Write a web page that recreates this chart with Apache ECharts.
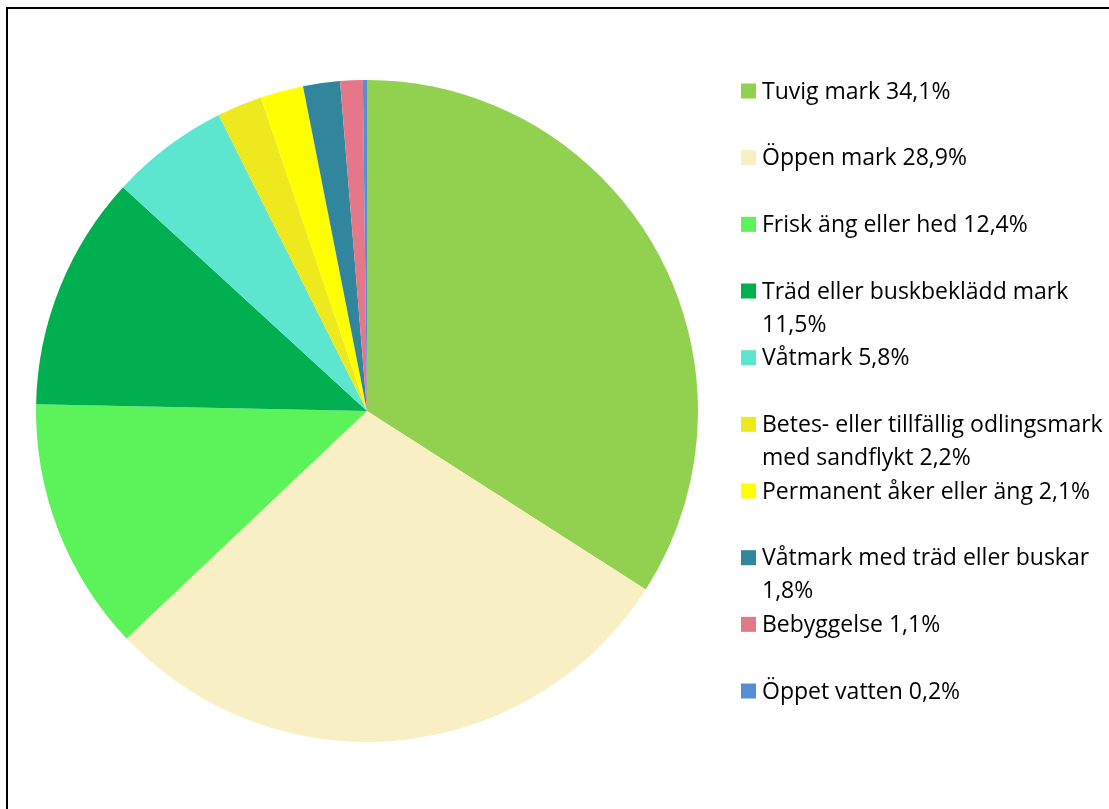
<!DOCTYPE html>
<html><head><meta charset="utf-8">
<script src="https://cdn.jsdelivr.net/npm/echarts@6/dist/echarts.min.js"></script>
<style>html,body{margin:0;padding:0;background:#fff}#c{width:1109px;height:809px}</style>
</head><body><div id="c"></div>
<script>
const categories = ['Tuvig mark','Öppen mark','Frisk äng eller hed','Träd eller buskbeklädd mark','Våtmark','Betes- eller tillfällig odlingsmark med sandflykt','Permanent åker eller äng','Våtmark med träd eller buskar','Bebyggelse','Öppet vatten'];
const values = [34.1, 28.9, 12.4, 11.5, 5.8, 2.2, 2.1, 1.8, 1.1, 0.2];
const colors = ['#92D050','#F8F0C4','#5CF25A','#00B050','#5CE6D0','#EEE81E','#FFFF00','#31859C','#E57888','#558ED5'];
const legendLabels = ['Tuvig mark 34,1%','Öppen mark 28,9%','Frisk äng eller hed 12,4%','Träd eller buskbeklädd mark\n11,5%','Våtmark 5,8%','Betes- eller tillfällig odlingsmark\nmed sandflykt 2,2%','Permanent åker eller äng 2,1%','Våtmark med träd eller buskar\n1,8%','Bebyggelse 1,1%','Öppet vatten 0,2%'];

const chart = echarts.init(document.getElementById('c'), null, {renderer: 'canvas'});
const legendFirstY = 91, legendStep = 66.67;
const graphics = [
  {type: 'line', shape: {x1: 7, y1: 8, x2: 1109, y2: 8}, style: {stroke: '#000', lineWidth: 2}, silent: true},
  {type: 'line', shape: {x1: 7, y1: 7, x2: 7, y2: 809}, style: {stroke: '#000', lineWidth: 2}, silent: true}
];
legendLabels.forEach((lab, i) => {
  const cy = legendFirstY + legendStep * i;
  graphics.push({type: 'rect', shape: {x: 741, y: cy - 7.5, width: 15, height: 15}, style: {fill: colors[i]}, silent: true});
  graphics.push({type: 'text', x: 762, y: cy - 15.5, style: {text: lab, fill: '#000', font: '23px "Open Sans"', lineHeight: 33, verticalAlign: 'top', align: 'left'}, silent: true});
});
chart.setOption({
  animation: false,
  backgroundColor: '#fff',
  color: colors,
  graphic: graphics,
  series: [{
    type: 'pie',
    center: [367, 411],
    radius: [0, 331],
    startAngle: 90,
    clockwise: true,
    label: {show: false},
    labelLine: {show: false},
    emphasis: {disabled: true},
    itemStyle: {borderWidth: 0},
    data: categories.map((n, i) => ({name: n, value: values[i]}))
  }]
});
</script></body></html>
